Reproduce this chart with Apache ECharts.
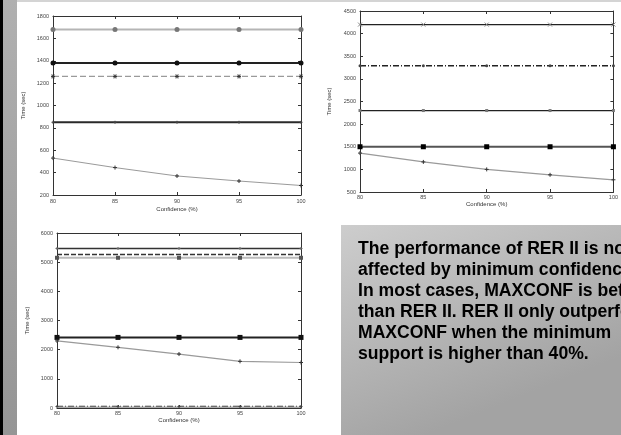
<!DOCTYPE html>
<html>
<head>
<meta charset="utf-8">
<script src="https://cdn.jsdelivr.net/npm/echarts@6/dist/echarts.min.js"></script>
<style>
html,body{margin:0;padding:0;background:#fff;}
#c{width:621px;height:435px;}
</style>
</head>
<body>
<div id="c"></div>
<script>
// ---- data ----
const confidence = [80, 85, 90, 95, 100];
const xTicks = [80, 85, 90, 95, 100];
const xName = 'Confidence (%)';
const yName = 'Time (sec)';

// chart 1 (top-left)
const c1Top    = [1680, 1680, 1680, 1680, 1680];
const c1Second = [1380, 1380, 1380, 1380, 1380];
const c1Dashed = [1260, 1260, 1260, 1260, 1260];
const c1Thick  = [850, 850, 850, 850, 850];
const c1Curve  = [530, 445, 370, 325, 285];
const c1YTicks = [200, 400, 600, 800, 1000, 1200, 1400, 1600, 1800];

// chart 2 (top-right)
const c2Top    = [4200, 4200, 4200, 4200, 4200];
const c2DashDot= [3290, 3290, 3290, 3290, 3290];
const c2Mid    = [2300, 2300, 2300, 2300, 2300];
const c2Thick  = [1500, 1500, 1500, 1500, 1500];
const c2Curve  = [1360, 1165, 1000, 880, 770];
const c2YTicks = [500, 1000, 1500, 2000, 2500, 3000, 3500, 4000, 4500];

// chart 3 (bottom-left)
const c3Top    = [5470, 5470, 5470, 5470, 5470];
const c3Dashed = [5260, 5260, 5260, 5260, 5260];
const c3Gray   = [5150, 5150, 5150, 5150, 5150];
const c3Thick  = [2420, 2420, 2420, 2420, 2420];
const c3Curve  = [2300, 2080, 1850, 1600, 1560];
const c3Low1   = [50, 50, 50, 50, 50];
const c3Low2   = [25, 25, 25, 25, 25];
const c3YTicks = [0, 1000, 2000, 3000, 4000, 5000, 6000];

const noteLines = [
  'The performance of RER II is not',
  'affected by minimum confidence.',
  'In most cases, MAXCONF is better',
  'than RER II. RER II only outperforms',
  'MAXCONF when the minimum',
  'support is higher than 40%.'
];

// ---- layout ----
const grids = [
  {left: 53, top: 16, width: 248, height: 179},
  {left: 360, top: 11, width: 254, height: 181},
  {left: 57, top: 233, width: 244, height: 175}
];
const axisCfg = [
  {ticks: c1YTicks, yGap: 27, xGap: 11, xMargin: 3},
  {ticks: c2YTicks, yGap: 28, xGap: 5, xMargin: 2},
  {ticks: c3YTicks, yGap: 27, xGap: 5, xMargin: 2}
];

const PLUS = 'path://M0,-5L0,5M-5,0L5,0';
const CROSS = 'path://M-5,-5L5,5M-5,5L5,-5';
const STAR = 'path://M0,-5L0,5M-5,0L5,0M-4,-4L4,4M-4,4L4,-4';

const xAxes = [], yAxes = [];
grids.forEach((g, i) => {
  const lineC = '#333';
  const cfg = axisCfg[i];
  xAxes.push({
    gridIndex: i, type: 'value', position: 'bottom',
    min: xTicks[0], max: xTicks[xTicks.length - 1], interval: xTicks[1] - xTicks[0],
    name: xName, nameLocation: 'middle', nameGap: cfg.xGap,
    nameTextStyle: {fontSize: 6, color: '#333', fontFamily: 'Liberation Sans', verticalAlign: 'top'},
    axisLine: {show: true, onZero: false, lineStyle: {color: lineC, width: 1}},
    axisTick: {show: true, inside: true, length: 3, lineStyle: {color: lineC}},
    axisLabel: {fontSize: 5.5, color: '#444', margin: cfg.xMargin, fontFamily: 'Liberation Sans'},
    splitLine: {show: false}
  });
  xAxes.push({
    gridIndex: i, type: 'value', position: 'top',
    min: xTicks[0], max: xTicks[xTicks.length - 1], interval: xTicks[1] - xTicks[0],
    axisLine: {show: true, onZero: false, lineStyle: {color: lineC, width: 1}},
    axisTick: {show: true, inside: true, length: 3, lineStyle: {color: lineC}},
    axisLabel: {show: false}, splitLine: {show: false}
  });
  const t = cfg.ticks;
  yAxes.push({
    gridIndex: i, type: 'value', position: 'left',
    min: t[0], max: t[t.length - 1], interval: t[1] - t[0],
    name: yName, nameLocation: 'middle', nameGap: cfg.yGap, nameRotate: 90,
    nameTextStyle: {fontSize: 6, color: '#333', fontFamily: 'Liberation Sans'},
    axisLine: {show: true, onZero: false, lineStyle: {color: lineC, width: 1}},
    axisTick: {show: true, inside: true, length: 3, lineStyle: {color: lineC}},
    axisLabel: {fontSize: 5.5, color: '#444', margin: 4, fontFamily: 'Liberation Sans',
                formatter: v => String(v)},
    splitLine: {show: false}
  });
  yAxes.push({
    gridIndex: i, type: 'value', position: 'right',
    min: t[0], max: t[t.length - 1], interval: t[1] - t[0],
    axisLine: {show: true, onZero: false, lineStyle: {color: lineC, width: 1}},
    axisTick: {show: true, inside: true, length: 3, lineStyle: {color: lineC}},
    axisLabel: {show: false}, splitLine: {show: false}
  });
});

function mk(gi, vals, o) {
  const stroked = typeof o.symbol === 'string' && o.symbol.indexOf('path://') === 0;
  return {
    type: 'line', xAxisIndex: gi * 2, yAxisIndex: gi * 2,
    data: confidence.map((c, k) => [c, vals[k]]),
    symbol: o.symbol || 'none', symbolSize: o.size || 4,
    showAllSymbol: true, animation: false, silent: true,
    lineStyle: {color: o.color, width: o.width || 1, type: o.type || 'solid'},
    itemStyle: stroked
      ? {color: 'rgba(0,0,0,0)', borderColor: o.mcolor || '#333', borderWidth: 1}
      : {color: o.mcolor || '#333'},
    z: o.z || 2
  };
}

const series = [
  mk(0, c1Top,    {color: '#b5b5b5', width: 2, symbol: 'circle', size: 5, mcolor: '#777'}),
  mk(0, c1Second, {color: '#222', width: 2, symbol: 'circle', size: 5, mcolor: '#111'}),
  mk(0, c1Dashed, {color: '#9a9a9a', width: 1.3, type: [6, 3], symbol: STAR, size: 4, mcolor: '#333'}),
  mk(0, c1Thick,  {color: '#2a2a2a', width: 2, symbol: PLUS, size: 3, mcolor: '#444'}),
  mk(0, c1Curve,  {color: '#9a9a9a', width: 1, symbol: PLUS, size: 4, mcolor: '#333'}),

  mk(1, c2Top,     {color: '#222', width: 1.3, symbol: CROSS, size: 4, mcolor: '#888'}),
  mk(1, c2DashDot, {color: '#222', width: 1.3, type: [6, 2, 1, 2], symbol: 'circle', size: 3, mcolor: '#444'}),
  mk(1, c2Mid,     {color: '#222', width: 1.3, symbol: 'rect', size: 3, mcolor: '#777'}),
  mk(1, c2Thick,   {color: '#555', width: 2, symbol: 'rect', size: 5, mcolor: '#000'}),
  mk(1, c2Curve,   {color: '#9a9a9a', width: 1.2, symbol: PLUS, size: 4, mcolor: '#333'}),

  mk(2, c3Top,    {color: '#333', width: 1.5, symbol: PLUS, size: 3, mcolor: '#666'}),
  mk(2, c3Dashed, {color: '#333', width: 1.5, type: [5, 2]}),
  mk(2, c3Gray,   {color: '#bbb', width: 2, symbol: 'rect', size: 4, mcolor: '#555'}),
  mk(2, c3Thick,  {color: '#222', width: 2, symbol: 'rect', size: 5, mcolor: '#111'}),
  mk(2, c3Curve,  {color: '#9a9a9a', width: 1.2, symbol: PLUS, size: 4, mcolor: '#333'}),
  mk(2, c3Low1,   {color: '#333', width: 1.5, type: [6, 2, 1, 2], symbol: PLUS, size: 3, mcolor: '#444'}),
  mk(2, c3Low2,   {color: '#aaa', width: 1.5})
];

const graphic = [
  {type: 'rect', shape: {x: 0, y: 0, width: 3, height: 435}, style: {fill: '#000'}, z: -10, silent: true},
  {type: 'rect', shape: {x: 3, y: 0, width: 14, height: 435},
   style: {fill: {type: 'linear', x: 0, y: 0, x2: 0, y2: 1,
     colorStops: [{offset: 0, color: '#b0b0b0'}, {offset: 1, color: '#959595'}]}}, z: -10, silent: true},
  {type: 'rect', shape: {x: 17, y: 0, width: 604, height: 2}, style: {fill: '#d4d4d4'}, z: -10, silent: true},
  {type: 'rect', shape: {x: 341, y: 225, width: 280, height: 210},
   style: {fill: {type: 'linear', x: 0, y: 0, x2: 0.3, y2: 1,
     colorStops: [{offset: 0, color: '#cdcdcd'}, {offset: 1, color: '#a3a3a3'}]}}, z: -5, silent: true}
];
noteLines.forEach((s, i) => {
  graphic.push({
    type: 'text', x: 358, y: 249.5 + i * 21, silent: true, z: 10,
    style: {text: s, fill: '#000', font: 'bold 17.6px "Liberation Sans", Arial, sans-serif',
            textAlign: 'left', textVerticalAlign: 'middle', verticalAlign: 'middle'}
  });
});

const chart = echarts.init(document.getElementById('c'), null, {renderer: 'canvas'});
chart.setOption({
  animation: false,
  backgroundColor: '#fff',
  grid: grids.map(g => Object.assign({containLabel: false}, g)),
  xAxis: xAxes, yAxis: yAxes,
  series: series,
  graphic: graphic
});
</script>
</body>
</html>
